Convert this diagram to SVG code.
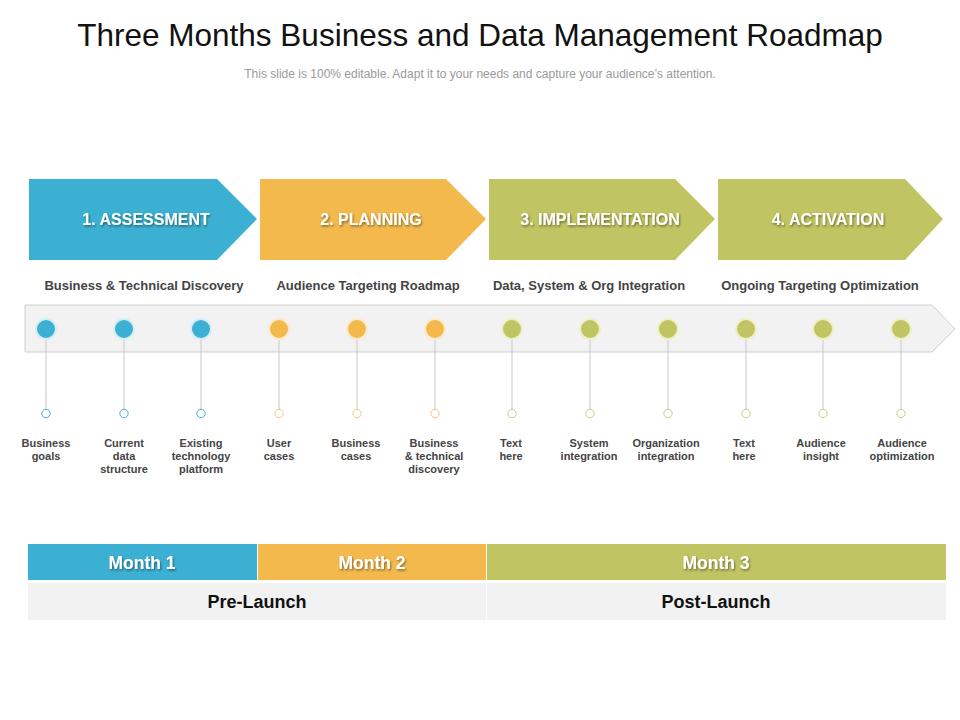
<svg xmlns="http://www.w3.org/2000/svg" width="960" height="720" viewBox="0 0 960 720">
<defs>
<filter id="sh" x="-10%" y="-30%" width="130%" height="170%">
<feDropShadow dx="1" dy="1.5" stdDeviation="0.8" flood-color="#000" flood-opacity="0.45"/>
</filter>
<style>
.title{font-family:"Liberation Sans",Arial,sans-serif;font-size:31.5px;fill:#111;text-anchor:middle}
.sub{font-family:"Liberation Sans",Arial,sans-serif;font-size:12px;fill:#9a9a9a;text-anchor:middle}
.chev{font-family:"Liberation Sans",Arial,sans-serif;font-size:16px;font-weight:bold;fill:#fff;text-anchor:middle}
.head{font-family:"Liberation Sans",Arial,sans-serif;font-size:13px;font-weight:bold;fill:#444;text-anchor:middle}
.lbl{font-family:"Liberation Sans",Arial,sans-serif;font-size:11px;font-weight:bold;fill:#444;text-anchor:middle}
.month{font-family:"Liberation Sans Narrow","Liberation Sans",Arial,sans-serif;font-size:17.5px;font-weight:bold;fill:#fff;text-anchor:middle}
.phase{font-family:"Liberation Sans Narrow","Liberation Sans",Arial,sans-serif;font-size:18px;font-weight:bold;fill:#111;text-anchor:middle}
.stem{stroke:#c8c8c8;stroke-width:1}
.blue{fill:#3cb0d3}
.orange{fill:#f3b94d}
.green{fill:#c1c462}
.dotb{fill:#3cb0d3;stroke:#d4eef7;stroke-width:2}
.doto{fill:#f3b94d;stroke:#fbebcd;stroke-width:2}
.dotg{fill:#c1c462;stroke:#eef0c9;stroke-width:2}
.endb{fill:#fff;stroke:#3cb0d3;stroke-width:1}
.endo{fill:#fff;stroke:#f3c97a;stroke-width:1}
.endg{fill:#fff;stroke:#c9cb85;stroke-width:1}
</style>
</defs>
<rect width="960" height="720" fill="#fff"/>
<text class="title" x="480" y="46">Three Months Business and Data Management Roadmap</text>
<text class="sub" x="480" y="78">This slide is 100% editable. Adapt it to your needs and capture your audience’s attention.</text>

<g id="phase1">
<polygon class="blue" points="29,179 217,179 257,219 217,260 29,260"/>
<text class="chev" x="146" y="225" filter="url(#sh)">1. ASSESSMENT</text>
<text class="head" x="144" y="290">Business  &amp; Technical Discovery</text>
</g>
<g id="phase2">
<polygon class="orange" points="260,179 446,179 486,219 446,260 260,260"/>
<text class="chev" x="371" y="225" filter="url(#sh)">2. PLANNING</text>
<text class="head" x="368" y="290">Audience Targeting Roadmap</text>
</g>
<g id="phase3">
<polygon class="green" points="489,179 675,179 715,219 675,260 489,260"/>
<text class="chev" x="600" y="225" filter="url(#sh)">3. IMPLEMENTATION</text>
<text class="head" x="589" y="290">Data, System &amp; Org Integration</text>
</g>
<g id="phase4">
<polygon class="green" points="718,179 905,179 943,219 905,260 718,260"/>
<text class="chev" x="828" y="225" filter="url(#sh)">4. ACTIVATION</text>
<text class="head" x="820" y="290">Ongoing Targeting Optimization</text>
</g>

<g id="timeline-bar">
<polygon points="25,305 932,305 955,329 932,352 25,352" fill="#f2f2f2" stroke="#cfcfcf" stroke-width="1"/>
</g>

<g id="connectors">
<line class="stem" x1="46" y1="339" x2="46" y2="409"/>
<line class="stem" x1="124" y1="339" x2="124" y2="409"/>
<line class="stem" x1="201" y1="339" x2="201" y2="409"/>
<line class="stem" x1="279" y1="339" x2="279" y2="409"/>
<line class="stem" x1="357" y1="339" x2="357" y2="409"/>
<line class="stem" x1="435" y1="339" x2="435" y2="409"/>
<line class="stem" x1="512" y1="339" x2="512" y2="409"/>
<line class="stem" x1="590" y1="339" x2="590" y2="409"/>
<line class="stem" x1="668" y1="339" x2="668" y2="409"/>
<line class="stem" x1="746" y1="339" x2="746" y2="409"/>
<line class="stem" x1="823" y1="339" x2="823" y2="409"/>
<line class="stem" x1="901" y1="339" x2="901" y2="409"/>
</g>

<g id="m1">
<circle class="dotb" cx="46" cy="329" r="10"/>
<circle class="endb" cx="46" cy="413.5" r="4.2"/>
<text class="lbl" x="46" y="447"><tspan x="46">Business</tspan><tspan x="46" dy="13">goals</tspan></text>
</g>
<g id="m2">
<circle class="dotb" cx="124" cy="329" r="10"/>
<circle class="endb" cx="124" cy="413.5" r="4.2"/>
<text class="lbl" x="124" y="447"><tspan x="124">Current</tspan><tspan x="124" dy="13">data</tspan><tspan x="124" dy="13">structure</tspan></text>
</g>
<g id="m3">
<circle class="dotb" cx="201" cy="329" r="10"/>
<circle class="endb" cx="201" cy="413.5" r="4.2"/>
<text class="lbl" x="201" y="447"><tspan x="201">Existing</tspan><tspan x="201" dy="13">technology</tspan><tspan x="201" dy="13">platform</tspan></text>
</g>
<g id="m4">
<circle class="doto" cx="279" cy="329" r="10"/>
<circle class="endo" cx="279" cy="413.5" r="4.2"/>
<text class="lbl" x="279" y="447"><tspan x="279">User</tspan><tspan x="279" dy="13">cases</tspan></text>
</g>
<g id="m5">
<circle class="doto" cx="357" cy="329" r="10"/>
<circle class="endo" cx="357" cy="413.5" r="4.2"/>
<text class="lbl" x="356" y="447"><tspan x="356">Business</tspan><tspan x="356" dy="13">cases</tspan></text>
</g>
<g id="m6">
<circle class="doto" cx="435" cy="329" r="10"/>
<circle class="endo" cx="435" cy="413.5" r="4.2"/>
<text class="lbl" x="434" y="447"><tspan x="434">Business</tspan><tspan x="434" dy="13">&amp; technical</tspan><tspan x="434" dy="13">discovery</tspan></text>
</g>
<g id="m7">
<circle class="dotg" cx="512" cy="329" r="10"/>
<circle class="endg" cx="512" cy="413.5" r="4.2"/>
<text class="lbl" x="511" y="447"><tspan x="511">Text</tspan><tspan x="511" dy="13">here</tspan></text>
</g>
<g id="m8">
<circle class="dotg" cx="590" cy="329" r="10"/>
<circle class="endg" cx="590" cy="413.5" r="4.2"/>
<text class="lbl" x="589" y="447"><tspan x="589">System</tspan><tspan x="589" dy="13">integration</tspan></text>
</g>
<g id="m9">
<circle class="dotg" cx="668" cy="329" r="10"/>
<circle class="endg" cx="668" cy="413.5" r="4.2"/>
<text class="lbl" x="666" y="447"><tspan x="666">Organization</tspan><tspan x="666" dy="13">integration</tspan></text>
</g>
<g id="m10">
<circle class="dotg" cx="746" cy="329" r="10"/>
<circle class="endg" cx="746" cy="413.5" r="4.2"/>
<text class="lbl" x="744" y="447"><tspan x="744">Text</tspan><tspan x="744" dy="13">here</tspan></text>
</g>
<g id="m11">
<circle class="dotg" cx="823" cy="329" r="10"/>
<circle class="endg" cx="823" cy="413.5" r="4.2"/>
<text class="lbl" x="821" y="447"><tspan x="821">Audience</tspan><tspan x="821" dy="13">insight</tspan></text>
</g>
<g id="m12">
<circle class="dotg" cx="901" cy="329" r="10"/>
<circle class="endg" cx="901" cy="413.5" r="4.2"/>
<text class="lbl" x="902" y="447"><tspan x="902">Audience</tspan><tspan x="902" dy="13">optimization</tspan></text>
</g>

<g id="month1">
<rect class="blue" x="28" y="544" width="229" height="36"/>
<text class="month" x="142" y="569" filter="url(#sh)">Month 1</text>
</g>
<g id="month2">
<rect class="orange" x="258" y="544" width="228" height="36"/>
<text class="month" x="372" y="569" filter="url(#sh)">Month 2</text>
</g>
<g id="month3">
<rect class="green" x="487" y="544" width="459" height="36"/>
<text class="month" x="716" y="569" filter="url(#sh)">Month 3</text>
</g>
<g id="prelaunch">
<rect x="28" y="583" width="458" height="37" fill="#f2f2f2"/>
<text class="phase" x="257" y="608">Pre-Launch</text>
</g>
<g id="postlaunch">
<rect x="487" y="583" width="459" height="37" fill="#f2f2f2"/>
<text class="phase" x="716" y="608">Post-Launch</text>
</g>
</svg>
